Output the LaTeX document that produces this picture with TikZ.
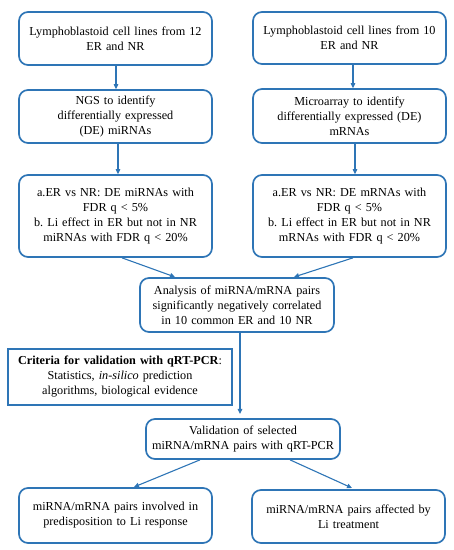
\documentclass[tikz,border=0pt]{standalone}
\usepackage{fontspec}
\setmainfont{Liberation Serif}
\usetikzlibrary{arrows.meta}
\definecolor{bl}{RGB}{46,117,182}
\frenchspacing
\begin{document}
\begin{tikzpicture}[x=1pt,y=1pt,
  rbox/.style={draw=bl,line width=1.7pt,rounded corners=9pt,align=center,text width=188pt,inner sep=0pt,font=\fontsize{12.2}{15}\selectfont},
  sbox/.style={draw=bl,line width=1.7pt,align=center,text width=220pt,inner sep=0pt,font=\fontsize{12.2}{15}\selectfont},
  arr/.style={draw=bl,line width=1.1pt,-{Triangle[length=5pt,width=4.5pt]}}]
\useasboundingbox (0,0) rectangle (454,550);
\node[rbox,minimum width=193pt,minimum height=53pt] (a1) at (115.5,511.5) {Lymphoblastoid cell lines from 12\\ER and NR};
\node[rbox,minimum width=193pt,minimum height=52pt] (b1) at (349.5,512) {Lymphoblastoid cell lines from 10\\ER and NR};
\node[rbox,minimum width=193pt,minimum height=53pt] (a2) at (115.5,433.5) {NGS to identify\\differentially expressed\\(DE) miRNAs};
\node[rbox,minimum width=193pt,minimum height=54pt] (b2) at (349.5,434) {Microarray to identify\\differentially expressed (DE)\\mRNAs};
\node[rbox,minimum width=193pt,minimum height=82pt] (a3) at (115.5,334) {a.ER vs NR: DE miRNAs with\\FDR q < 5\%\\b. Li effect in ER but not in NR\\miRNAs with FDR q < 20\%};
\node[rbox,minimum width=193pt,minimum height=82pt] (b3) at (349.5,334) {a.ER vs NR: DE mRNAs with\\FDR q < 5\%\\b. Li effect in ER but not in NR\\mRNAs with FDR q < 20\%};
\node[rbox,minimum width=194pt,minimum height=54pt] (c) at (237,245) {Analysis of miRNA/mRNA pairs\\significantly negatively correlated\\in 10 common ER and 10 NR};
\node[sbox,minimum width=224pt,minimum height=56pt] (cr) at (120,173) {\textbf{Criteria for validation with qRT-PCR}:\\Statistics, \textit{in-silico} prediction\\algorithms, biological evidence};
\node[rbox,minimum width=194pt,minimum height=40pt] (v) at (243,111) {Validation of selected\\miRNA/mRNA pairs with qRT-PCR};
\node[rbox,minimum width=193pt,minimum height=55pt] (f1) at (115.5,34.5) {miRNA/mRNA pairs involved in\\predisposition to Li response};
\node[rbox,minimum width=193pt,minimum height=53pt] (f2) at (348.5,33.5) {miRNA/mRNA pairs affected by\\Li treatment};
\draw[arr] (a1.south -| 116,0) -- (a2.north -| 116,0);
\draw[arr] (b1.south -| 353,0) -- (b2.north -| 353,0);
\draw[arr] (a2.south -| 118,0) -- (a3.north -| 118,0);
\draw[arr] (b2.south -| 355,0) -- (b3.north -| 355,0);
\draw[arr] (a3.south -| 122,0) -- (175,273);
\draw[arr] (b3.south -| 353,0) -- (294,273);
\draw[arr] (c.south -| 240,0) -- (240,136);
\draw[arr] (v.south -| 200,0) -- (134,63);
\draw[arr] (v.south -| 290,0) -- (352,62);
\end{tikzpicture}
\end{document}
